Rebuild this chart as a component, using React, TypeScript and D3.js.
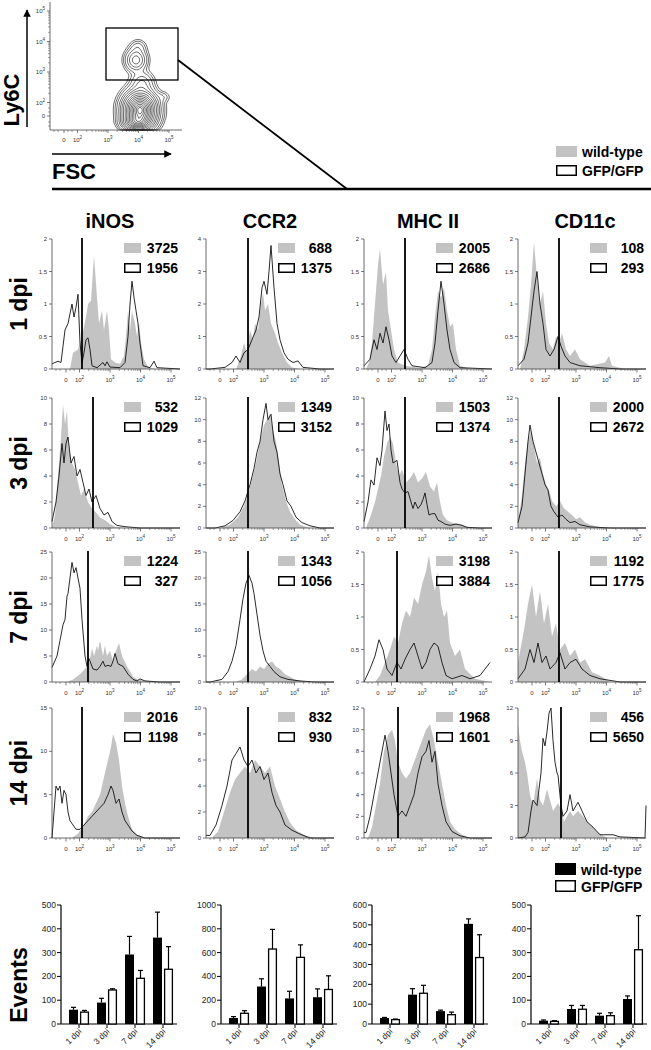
import React from "react";
import * as d3 from "d3";

type Pt = [number, number];

// ---------- Labels ----------
const markers = ["iNOS", "CCR2", "MHC II", "CD11c"];
const days = ["1 dpi", "3 dpi", "7 dpi", "14 dpi"];

// ---------- Histogram axis settings (per row, per marker) ----------
const yMaxes = [
  [2, 4, 2, 2],
  [10, 12, 10, 12],
  [25, 25, 2, 2],
  [15, 10, 12, 12],
];
const yTickSteps = [
  [0.5, 1, 0.5, 0.5],
  [2, 2, 2, 2],
  [5, 5, 0.5, 0.5],
  [5, 2, 2, 3],
];
// gate position, channel units (0-256)
const gates = [
  [60, 84, 82, 82],
  [82, 84, 82, 82],
  [72, 84, 66, 82],
  [60, 84, 68, 86],
];
const mfiWT = [
  [3725, 688, 2005, 108],
  [532, 1349, 1503, 2000],
  [1224, 1343, 3198, 1192],
  [2016, 832, 1968, 456],
];
const mfiKO = [
  [1956, 1375, 2686, 293],
  [1029, 3152, 1374, 2672],
  [327, 1056, 3884, 1775],
  [1198, 930, 1601, 5650],
];
// x axis decade ticks (channel units)
const xTickCh = [28, 55, 116, 177, 238];
const xTickExp = ["", "2", "3", "4", "5"];

// ---------- Histogram data: [channel, count] ----------
const iNOS_d1_wt: Pt[] = [[36,0],[42,0.25],[52,0.3],[60,0.5],[68,0.8],[72,1.0],[78,1.05],[84,1.75],[90,1.1],[94,0.7],[100,0.9],[104,0.6],[110,0.9],[114,0.6],[118,0.15],[126,0.1],[136,0.08],[144,0.2],[148,0.5],[152,0.9],[156,0.6],[160,0.9],[166,0.7],[170,0.5],[174,0.72],[178,0.4],[184,0.15],[192,0.03],[206,0]];
const iNOS_d1_ko: Pt[] = [[0,0.08],[12,0.12],[18,0.1],[22,0.35],[26,0.6],[32,0.7],[36,0.85],[40,1.0],[44,0.8],[48,0.95],[52,1.15],[56,0.4],[60,0.1],[64,0.25],[68,0.45],[72,0.48],[76,0.3],[80,0.05],[90,0.02],[102,0.1],[106,0.05],[110,0.11],[116,0.03],[136,0.02],[146,0.1],[152,0.5],[156,1.0],[160,1.35],[164,1.1],[168,0.9],[172,0.7],[176,0.4],[182,0.05],[196,0.02],[204,0.12],[210,0.02],[256,0]];
const CCR2_d1_wt: Pt[] = [[60,0],[68,0.3],[76,0.8],[82,0.5],[88,1.2],[94,0.9],[98,1.4],[104,1.2],[110,2.0],[114,2.35],[118,1.8],[124,2.0],[130,1.4],[138,1.1],[144,0.8],[152,0.5],[162,0.2],[172,0.05],[188,0]];
const CCR2_d1_ko: Pt[] = [[0,0],[8,0],[38,0.05],[52,0.2],[60,0.4],[68,0.2],[76,0.5],[84,0.6],[92,0.9],[100,1.2],[106,1.6],[112,2.5],[116,2.7],[122,2.3],[126,3.0],[130,3.8],[136,2.5],[142,1.4],[148,0.9],[156,0.5],[164,0.3],[174,0.2],[184,0.25],[194,0.05],[228,0],[256,0]];
const MHC_d1_wt: Pt[] = [[4,0],[10,0.1],[16,0.4],[22,1.0],[28,1.6],[32,1.85],[38,1.3],[44,1.5],[48,0.9],[54,0.6],[60,0.3],[68,0.1],[82,0.05],[112,0.02],[128,0.05],[136,0.3],[142,0.8],[148,1.2],[154,1.1],[160,1.25],[166,0.9],[172,0.65],[178,0.7],[184,0.3],[192,0.05],[212,0]];
const MHC_d1_ko: Pt[] = [[0,0.05],[12,0.15],[20,0.45],[26,0.3],[32,0.55],[38,0.4],[44,0.65],[50,0.45],[56,0.2],[64,0.1],[72,0.2],[80,0.3],[88,0.15],[96,0.05],[122,0.02],[136,0.1],[142,0.4],[148,0.9],[154,1.35],[160,1.0],[166,0.6],[172,0.3],[180,0.1],[192,0.02],[256,0]];
const CD11c_d1_wt: Pt[] = [[4,0],[12,0.3],[20,0.8],[26,1.3],[32,1.95],[38,1.4],[44,1.0],[50,1.2],[56,0.7],[62,0.4],[70,0.3],[76,0.5],[82,0.4],[88,0.55],[96,0.3],[104,0.2],[114,0.3],[124,0.15],[144,0.05],[174,0.1],[182,0.2],[188,0.05],[214,0]];
const CD11c_d1_ko: Pt[] = [[0,0.05],[12,0.15],[20,0.4],[26,0.8],[32,1.2],[38,1.5],[44,1.0],[50,0.7],[56,0.3],[64,0.2],[72,0.3],[80,0.5],[86,0.35],[94,0.2],[104,0.1],[124,0.05],[164,0.02],[204,0],[256,0]];

const iNOS_d3_wt: Pt[] = [[0,0],[6,1],[12,4],[18,7],[22,9.5],[26,8],[30,9],[34,6],[40,5],[46,4.5],[52,3.5],[58,2.5],[64,3],[72,2],[80,1.5],[88,1.2],[96,0.8],[106,0.6],[116,0.3],[126,0.1],[146,0]];
const iNOS_d3_ko: Pt[] = [[0,0.5],[8,2],[14,4],[20,6.5],[24,5],[28,6.5],[32,7],[38,5],[44,5.5],[50,4],[56,4.5],[62,3.5],[68,2.5],[74,3],[80,2],[88,2.5],[96,1.5],[104,1],[112,1.2],[120,0.5],[130,0.2],[146,0.1],[176,0],[256,0]];
const CCR2_d3_wt: Pt[] = [[28,0],[48,0.3],[64,1],[76,2],[84,3],[92,4.5],[100,6],[108,8],[116,9.5],[122,10],[128,10.5],[134,9],[140,8],[146,6],[152,4],[160,2.5],[168,1.5],[178,0.8],[188,0.3],[208,0]];
const CCR2_d3_ko: Pt[] = [[0,0],[18,0],[38,0.2],[54,0.7],[68,1.5],[78,2.5],[88,4],[96,5.5],[102,7],[108,8],[114,10],[120,11.5],[124,10],[130,10.5],[136,8],[142,7],[148,5],[154,4],[162,2.5],[170,2],[180,1],[192,0.5],[208,0.2],[228,0],[256,0]];
const MHC_d3_wt: Pt[] = [[4,0],[8,0.4],[14,1],[22,2],[28,3],[34,4],[40,5.5],[46,6.5],[52,7],[58,6.5],[64,5],[70,4],[76,4.5],[84,3.5],[92,3.8],[100,4.3],[108,3.5],[116,3.8],[124,4.3],[132,3.2],[140,2.8],[146,3.5],[152,2],[158,1],[166,0.6],[176,0.4],[192,0.3],[206,0.1],[222,0]];
const MHC_d3_ko: Pt[] = [[0,0.5],[8,2],[14,3.7],[20,3.3],[26,5.4],[32,4.8],[36,6],[42,9],[46,7.5],[50,8],[54,6],[58,5],[66,5.2],[72,3.5],[76,3],[82,2.7],[88,2.8],[94,2],[98,1.5],[102,2],[108,1.5],[114,1.8],[118,2.2],[122,2.7],[126,1.8],[130,1],[136,1.1],[142,1.1],[148,0.6],[154,0.5],[162,0.3],[172,0.2],[184,0.3],[196,0.2],[206,0.05],[232,0],[256,0]];
const CD11c_d3_wt: Pt[] = [[0,0.5],[8,3],[14,6],[20,8],[26,9],[32,7.5],[38,6],[44,6.5],[50,5],[56,4],[62,3.5],[68,2.5],[76,2],[84,2.5],[92,1.8],[100,1.5],[108,1.2],[116,0.8],[124,1],[134,0.5],[144,0.3],[164,0.1],[194,0]];
const CD11c_d3_ko: Pt[] = [[0,0.5],[8,2],[14,5],[20,8],[24,9.5],[30,8],[36,7],[42,6],[48,5],[54,4],[60,3.5],[66,2],[72,1.5],[80,1],[88,1.2],[96,0.8],[104,0.5],[114,0.6],[124,0.3],[144,0.1],[184,0],[256,0]];

const iNOS_d7_wt: Pt[] = [[30,0],[42,0.5],[56,1.5],[66,2.5],[74,3.5],[80,6.5],[84,5],[90,7],[92,6],[96,8],[102,5],[106,7],[110,5],[116,6],[122,4],[126,5.5],[134,7.5],[140,5],[150,3],[156,2],[162,1],[172,0.5],[182,0.3],[202,0.1],[216,0]];
const iNOS_d7_ko: Pt[] = [[0,2.8],[10,5],[16,8],[22,11],[26,12],[30,16.5],[32,17],[36,20],[40,23],[44,21],[48,22],[52,20],[56,18],[60,12],[66,5],[70,3],[74,4.5],[82,2.5],[90,2.3],[96,3],[102,4],[106,3],[112,3.2],[118,3],[122,4],[126,5.5],[132,3.5],[142,3],[152,1.5],[162,0.5],[170,0.2],[176,0.6],[186,0.2],[216,0],[256,0]];
const CCR2_d7_wt: Pt[] = [[58,0],[72,0.5],[82,1.5],[92,2.5],[100,2],[108,3],[116,2.5],[124,3.5],[132,4],[140,3],[148,2.5],[158,1.5],[168,1],[178,0.5],[192,0.2],[208,0]];
const CCR2_d7_ko: Pt[] = [[0,0],[8,0],[32,0.5],[44,2],[52,4],[60,7],[68,12],[74,16],[80,19],[86,20.5],[92,19],[96,17],[102,13],[108,9],[114,6],[120,4],[128,3],[136,2],[148,1],[164,0.5],[188,0.2],[218,0],[256,0]];
const MHC_d7_wt: Pt[] = [[22,0],[32,0.1],[42,0.3],[52,0.5],[60,0.7],[68,0.6],[76,0.9],[84,1.1],[92,1.0],[100,1.3],[108,1.2],[116,1.5],[124,1.7],[130,1.95],[136,1.6],[142,1.4],[148,1.7],[154,1.2],[160,1.0],[166,1.1],[172,0.6],[182,0.4],[192,0.5],[202,0.2],[222,0.05],[252,0]];
const MHC_d7_ko: Pt[] = [[0,0],[12,0.2],[22,0.4],[30,0.65],[38,0.5],[46,0.2],[56,0.1],[66,0.3],[74,0.2],[82,0.35],[92,0.5],[100,0.6],[108,0.4],[116,0.2],[124,0.3],[132,0.5],[140,0.6],[148,0.55],[156,0.3],[164,0.1],[176,0.05],[196,0.1],[212,0.05],[232,0.1],[252,0.3]];
const CD11c_d7_wt: Pt[] = [[0,0.3],[12,0.8],[20,1.2],[28,1.5],[36,1.0],[44,1.4],[52,0.9],[60,1.2],[68,0.7],[76,0.9],[84,0.5],[94,0.6],[104,0.4],[114,0.5],[124,0.3],[134,0.35],[148,0.15],[164,0.1],[184,0]];
const CD11c_d7_ko: Pt[] = [[0,0.05],[14,0.2],[24,0.5],[32,0.3],[40,0.6],[48,0.3],[56,0.4],[64,0.2],[76,0.3],[84,0.45],[94,0.2],[104,0.3],[116,0.35],[128,0.2],[144,0.1],[164,0.05],[204,0],[256,0]];

const iNOS_d14_wt: Pt[] = [[40,0],[52,0.5],[64,1.5],[72,2.5],[80,3],[88,4],[96,5],[104,7],[112,9],[118,10.5],[122,12],[128,11],[134,9],[140,6],[146,4],[152,2.5],[160,1],[170,0.4],[186,0]];
const iNOS_d14_ko: Pt[] = [[0,0],[4,3],[8,6],[12,5.5],[16,6],[20,4],[24,5.5],[28,5],[32,3],[36,2],[42,1.5],[48,1],[56,1],[64,1.5],[72,2],[80,2.5],[88,3],[96,3.5],[104,4],[112,5],[118,6],[122,5.5],[128,4],[134,4.5],[140,3],[146,2],[152,1.5],[160,0.8],[170,0.3],[186,0],[256,0]];
const CCR2_d14_wt: Pt[] = [[12,0],[24,0.5],[36,2],[48,3.5],[58,4.5],[68,5],[78,5.5],[88,5],[98,6],[108,5.5],[118,5],[128,5.5],[138,4],[148,3],[158,2],[168,1.2],[180,0.6],[198,0.2],[218,0]];
const CCR2_d14_ko: Pt[] = [[0,0.2],[8,0.2],[20,1],[32,2.5],[42,4],[52,6],[60,6.5],[68,7],[76,6],[84,5.5],[92,6],[100,5],[108,5.5],[116,4.5],[124,5],[132,3.5],[140,2.5],[148,2],[158,1],[172,0.6],[188,0.3],[208,0],[256,0]];
const MHC_d14_wt: Pt[] = [[8,0],[16,1],[24,3],[32,5],[40,8],[48,9.5],[56,10],[62,9],[68,7],[76,6],[84,5.5],[92,6],[100,7],[108,8],[116,9],[124,10],[132,10.5],[140,9],[148,7],[156,5],[164,3],[172,1.5],[182,0.8],[196,0.3],[212,0]];
const MHC_d14_ko: Pt[] = [[0,0.5],[4,0.5],[12,2],[20,4],[28,6],[36,8],[42,9.5],[48,8],[54,6],[60,4],[68,2],[76,2.5],[84,2],[92,3],[100,4],[108,6],[116,7.5],[124,8],[130,9],[136,7],[142,8],[148,5],[156,3],[164,1.5],[176,0.6],[192,0.2],[212,0],[256,0]];
const CD11c_d14_wt: Pt[] = [[0,10.5],[4,9],[8,8],[14,7],[18,6],[24,4],[30,3],[38,5.5],[44,3.5],[50,3],[58,4.5],[64,3.5],[70,2.5],[80,3.2],[88,2.5],[92,1.5],[104,2.5],[110,2],[120,2.5],[130,2],[138,1.5],[150,1],[160,0.5],[170,0.2],[178,0]];
const CD11c_d14_ko: Pt[] = [[0,0],[14,0.1],[20,0.5],[26,2.5],[30,3.5],[38,3],[42,4.5],[46,6],[50,9.2],[54,8.5],[58,9.8],[62,11.5],[66,12],[70,9],[74,7],[78,6],[80,5.8],[86,3],[90,2],[98,2.5],[104,4],[110,2.5],[120,3.3],[128,2.5],[138,1.5],[150,1],[164,0.3],[190,0.3],[204,0.1],[254,0],[256,3]];

const histWT: Pt[][][] = [
  [iNOS_d1_wt, CCR2_d1_wt, MHC_d1_wt, CD11c_d1_wt],
  [iNOS_d3_wt, CCR2_d3_wt, MHC_d3_wt, CD11c_d3_wt],
  [iNOS_d7_wt, CCR2_d7_wt, MHC_d7_wt, CD11c_d7_wt],
  [iNOS_d14_wt, CCR2_d14_wt, MHC_d14_wt, CD11c_d14_wt],
];
const histKO: Pt[][][] = [
  [iNOS_d1_ko, CCR2_d1_ko, MHC_d1_ko, CD11c_d1_ko],
  [iNOS_d3_ko, CCR2_d3_ko, MHC_d3_ko, CD11c_d3_ko],
  [iNOS_d7_ko, CCR2_d7_ko, MHC_d7_ko, CD11c_d7_ko],
  [iNOS_d14_ko, CCR2_d14_ko, MHC_d14_ko, CD11c_d14_ko],
];

// ---------- Contour (Ly6C vs FSC) population components: [fscCh, ly6cCh, sdX, sdY, weight] ----------
const populations: [number, number, number, number, number][] = [
  [180, 40, 16, 18, 1.0],
  [174, 16, 14, 8, 0.4],
  [184, 94, 12, 12, 0.05],
  [172, 140, 11, 12, 0.1],
  [176, 166, 9, 8, 0.02],
  [226, 66, 8, 6, 0.012],
];
const contourLevels = [0.004, 0.008, 0.015, 0.03, 0.05, 0.08, 0.12, 0.18, 0.25, 0.33, 0.42, 0.52, 0.62, 0.72, 0.82, 0.9, 0.96];
const gateRect = { x0: 112, x1: 256, y0: 100, y1: 204 };

// ---------- Bar chart data (Events) ----------
const barDays = ["1 dpi", "3 dpi", "7 dpi", "14 dpi"];
const barYMax = [500, 1000, 600, 500];
const barYStep = [100, 200, 100, 100];
const eventsWT = [[60, 90, 292, 363], [50, 315, 215, 225], [30, 148, 65, 505], [14, 63, 35, 105]];
const errWT = [[10, 18, 76, 107], [12, 65, 60, 70], [3, 30, 5, 25], [3, 15, 10, 13]];
const eventsKO = [[50, 143, 192, 230], [90, 630, 560, 290], [22, 155, 47, 335], [11, 62, 35, 312]];
const errKO = [[7, 5, 33, 95], [22, 165, 105, 115], [3, 40, 13, 115], [3, 16, 12, 143]];

const FONT = "'Liberation Sans', Arial, Helvetica, sans-serif";
const GRAY = "#c3c3c3";

const COLS = [52, 206, 364, 518];
const ROW_BASE = [369, 528, 682, 838];
const PW = 128;
const PH = 130;

function Hist({ r, c }: { r: number; c: number }) {
  const x0 = COLS[c];
  const yb = ROW_BASE[r];
  const ymax = yMaxes[r][c];
  const x = d3.scaleLinear().domain([0, 256]).range([x0, x0 + PW]);
  const y = d3.scaleLinear().domain([0, ymax]).range([yb, yb - PH]);
  const cy = (v: number) => y(Math.min(v, ymax));
  const area = d3.area<Pt>().x((d) => x(d[0])).y0(yb).y1((d) => cy(d[1]));
  const line = d3.line<Pt>().x((d) => x(d[0])).y((d) => cy(d[1]));
  const step = yTickSteps[r][c];
  const yticks = d3.range(0, ymax + step / 2, step);
  const minor: number[] = [];
  for (let k = 2; k <= 4; k++) {
    for (let m = 2; m <= 9; m++) minor.push(55 + (k - 2 + Math.log10(m)) * 61);
  }
  [8, 16, 36, 44].forEach((v) => minor.push(v));
  const gx = x(gates[r][c]);
  const lx = x0 + 72;
  const ly = yb - PH + 4;
  return (
    <g>
      <path d={area(histWT[r][c]) || ""} fill={GRAY} />
      <path d={line(histKO[r][c]) || ""} fill="none" stroke="#111" strokeWidth={0.9} />
      <line x1={x0} x2={x0} y1={yb} y2={yb - PH} stroke="#444" strokeWidth={0.8} />
      <line x1={x0} x2={x0 + PW} y1={yb} y2={yb} stroke="#444" strokeWidth={0.8} />
      {yticks.map((t) => (
        <g key={t}>
          <line x1={x0 - 3} x2={x0} y1={y(t)} y2={y(t)} stroke="#444" strokeWidth={0.7} />
          <text x={x0 - 5} y={y(t) + 2} fontSize={6} textAnchor="end" fill="#333" fontFamily={FONT}>
            {String(t)}
          </text>
        </g>
      ))}
      {minor.map((m, i) => (
        <line key={i} x1={x(m)} x2={x(m)} y1={yb} y2={yb + 2} stroke="#444" strokeWidth={0.5} />
      ))}
      {xTickCh.map((t, i) => (
        <g key={i}>
          <line x1={x(t)} x2={x(t)} y1={yb} y2={yb + 3.5} stroke="#444" strokeWidth={0.7} />
          <text x={x(t)} y={yb + 13} fontSize={6} textAnchor="middle" fill="#333" fontFamily={FONT}>
            {xTickExp[i] === "" ? "0" : (
              <>
                10<tspan fontSize={4.5} dy={-3}>{xTickExp[i]}</tspan>
              </>
            )}
          </text>
        </g>
      ))}
      <line x1={gx} x2={gx} y1={yb} y2={yb - PH - 1} stroke="#000" strokeWidth={1.8} />
      <rect x={lx} y={ly} width={17} height={10} fill={GRAY} />
      <text x={x0 + 126} y={ly + 10} fontSize={14} fontWeight="bold" textAnchor="end" fontFamily={FONT}>
        {mfiWT[r][c]}
      </text>
      <rect x={lx + 0.75} y={ly + 20.75} width={15.5} height={8.5} fill="#fff" stroke="#000" strokeWidth={1.5} />
      <text x={x0 + 126} y={ly + 30} fontSize={14} fontWeight="bold" textAnchor="end" fontFamily={FONT}>
        {mfiKO[r][c]}
      </text>
    </g>
  );
}

function ContourPlot() {
  const xs = d3.scaleLinear().domain([0, 264]).range([50, 182]);
  const ys = d3.scaleLinear().domain([0, 256]).range([130, 2]);
  const step = 2;
  const nx = 66;
  const ny = 64;
  const vals: number[] = new Array(nx * ny).fill(0);
  for (let j = 0; j < ny; j++) {
    for (let i = 0; i < nx; i++) {
      const cx = xs.invert(50 + (i + 0.5) * step);
      const cy = ys.invert(2 + (j + 0.5) * step);
      let s = 0;
      for (const [px, py, sx, sy, w] of populations) {
        s += w * Math.exp(-((cx - px) ** 2) / (2 * sx * sx) - ((cy - py) ** 2) / (2 * sy * sy));
      }
      vals[j * nx + i] = s;
    }
  }
  const mx = d3.max(vals) || 1;
  const cs = d3.contours().size([nx, ny]).thresholds(contourLevels.map((l) => l * mx))(vals);
  const path = d3.geoPath(d3.geoIdentity().scale(step).translate([50, 2]) as any);
  const yTicks = [28, 55, 116, 177, 238];
  const minorX: number[] = [];
  for (let k = 2; k <= 4; k++) for (let m = 2; m <= 9; m++) minorX.push(55 + (k - 2 + Math.log10(m)) * 61);
  [8, 16, 36, 44].forEach((v) => minorX.push(v));
  return (
    <g>
      {cs.map((c, i) => (
        <path key={i} d={path(c as any) || ""} fill="none" stroke="#111" strokeWidth={0.6} />
      ))}
      <line x1={50} x2={50} y1={2} y2={130} stroke="#444" strokeWidth={0.8} />
      <line x1={50} x2={182} y1={130} y2={130} stroke="#444" strokeWidth={0.8} />
      {yTicks.map((t, i) => (
        <g key={i}>
          <line x1={47} x2={50} y1={ys(t)} y2={ys(t)} stroke="#444" strokeWidth={0.7} />
          <text x={45} y={ys(t) + 2} fontSize={6} textAnchor="end" fill="#333" fontFamily={FONT}>
            {xTickExp[i] === "" ? "0" : (<>10<tspan fontSize={4.5} dy={-3}>{xTickExp[i]}</tspan></>)}
          </text>
        </g>
      ))}
      {minorX.map((m, i) => (
        <g key={i}>
          <line x1={xs(m)} x2={xs(m)} y1={130} y2={132} stroke="#444" strokeWidth={0.5} />
          <line x1={48} x2={50} y1={ys(m)} y2={ys(m)} stroke="#444" strokeWidth={0.5} />
        </g>
      ))}
      {yTicks.map((t, i) => (
        <g key={"x" + i}>
          <line x1={xs(t)} x2={xs(t)} y1={130} y2={133} stroke="#444" strokeWidth={0.7} />
          <text x={xs(t)} y={142} fontSize={6} textAnchor="middle" fill="#333" fontFamily={FONT}>
            {xTickExp[i] === "" ? "0" : (<>10<tspan fontSize={4.5} dy={-3}>{xTickExp[i]}</tspan></>)}
          </text>
        </g>
      ))}
      <rect
        x={xs(gateRect.x0)}
        y={ys(gateRect.y1)}
        width={xs(gateRect.x1) - xs(gateRect.x0)}
        height={ys(gateRect.y0) - ys(gateRect.y1)}
        fill="none"
        stroke="#000"
        strokeWidth={1.3}
      />
      <line x1={xs(gateRect.x1)} y1={ys(140)} x2={347} y2={189} stroke="#000" strokeWidth={1.8} />
    </g>
  );
}

function BarChart({ c }: { c: number }) {
  const AX = [61, 221, 372, 531][c];
  const y0 = 1024;
  const y = d3.scaleLinear().domain([0, barYMax[c]]).range([y0, y0 - 119]);
  const xb = d3.scaleBand().domain(barDays).range([AX + 4, AX + 116]);
  const ticks = d3.range(0, barYMax[c] + 1, barYStep[c]);
  return (
    <g fontFamily={FONT}>
      <line x1={AX} x2={AX} y1={y0} y2={y(barYMax[c])} stroke="#000" strokeWidth={1.2} />
      <line x1={AX} x2={AX + 116} y1={y0} y2={y0} stroke="#000" strokeWidth={1.2} />
      {ticks.map((t) => (
        <g key={t}>
          <line x1={AX - 4} x2={AX} y1={y(t)} y2={y(t)} stroke="#000" strokeWidth={1} />
          <text x={AX - 5} y={y(t) + 3} fontSize={8.5} textAnchor="end" fill="#222">
            {t}
          </text>
        </g>
      ))}
      {barDays.map((d, i) => {
        const cx = (xb(d) || 0) + xb.bandwidth() / 2;
        const wt = eventsWT[c][i];
        const ko = eventsKO[c][i];
        const ewt = wt + errWT[c][i];
        const eko = ko + errKO[c][i];
        return (
          <g key={d}>
            <line x1={cx - 5.5} x2={cx - 5.5} y1={y(wt)} y2={y(ewt)} stroke="#000" strokeWidth={1.2} />
            <line x1={cx - 8} x2={cx - 3} y1={y(ewt)} y2={y(ewt)} stroke="#000" strokeWidth={1.2} />
            <rect x={cx - 10} y={y(wt)} width={9} height={y0 - y(wt)} fill="#000" />
            <line x1={cx + 5.5} x2={cx + 5.5} y1={y(ko)} y2={y(eko)} stroke="#000" strokeWidth={1.2} />
            <line x1={cx + 3} x2={cx + 8} y1={y(eko)} y2={y(eko)} stroke="#000" strokeWidth={1.2} />
            <rect x={cx + 1.6} y={y(ko)} width={7.8} height={y0 - y(ko)} fill="#fff" stroke="#000" strokeWidth={1.3} />
            <line x1={cx} x2={cx} y1={y0} y2={y0 + 4} stroke="#000" strokeWidth={1} />
            <text
              transform={`translate(${cx + 3},${y0 + 8}) rotate(-45)`}
              fontSize={8.5}
              textAnchor="end"
              fill="#222"
            >
              {d}
            </text>
          </g>
        );
      })}
    </g>
  );
}

export default function App() {
  const headerX = [110, 270, 428, 585];
  return (
    <div style={{ position: "absolute", left: 0, top: 0 }}>
      <svg width={651} height={1050} viewBox="0 0 651 1050" style={{ display: "block", background: "#fff" }}>
        <rect width={651} height={1050} fill="#fff" />
        <ContourPlot />
        <defs>
          <marker id="arr" viewBox="0 0 10 10" refX={9} refY={5} markerWidth={5} markerHeight={5} orient="auto">
            <path d="M0,0 L10,5 L0,10 z" fill="#000" />
          </marker>
        </defs>
        <line x1={27} y1={127} x2={27} y2={10} stroke="#000" strokeWidth={1.5} markerEnd="url(#arr)" />
        <line x1={52} y1={154} x2={171} y2={154} stroke="#000" strokeWidth={1.5} markerEnd="url(#arr)" />
        <text transform="translate(19,100) rotate(-90)" fontSize={22} fontWeight="bold" textAnchor="middle" fontFamily={FONT}>
          Ly6C
        </text>
        <text x={52} y={179} fontSize={22} fontWeight="bold" fontFamily={FONT}>
          FSC
        </text>
        <line x1={52} x2={651} y1={189} y2={189} stroke="#000" strokeWidth={2.5} />
        <rect x={556} y={146} width={21} height={11} fill={GRAY} />
        <text x={582} y={157} fontSize={14} fontWeight="bold" fontFamily={FONT}>
          wild-type
        </text>
        <rect x={556.75} y={165.75} width={19.5} height={9.5} fill="#fff" stroke="#000" strokeWidth={1.5} />
        <text x={582} y={176} fontSize={14} fontWeight="bold" fontFamily={FONT}>
          GFP/GFP
        </text>

        {markers.map((m, i) => (
          <text key={m} x={headerX[i]} y={228} fontSize={20} fontWeight="bold" textAnchor="middle" fontFamily={FONT}>
            {m}
          </text>
        ))}
        {days.map((d, r) => (
          <text
            key={d}
            transform={`translate(27,${ROW_BASE[r] - PH / 2}) rotate(-90)`}
            fontSize={23}
            fontWeight="bold"
            textAnchor="middle"
            fontFamily={FONT}
          >
            {d}
          </text>
        ))}
        {days.map((_, r) => markers.map((_, c) => <Hist key={r + "-" + c} r={r} c={c} />))}

        <text transform="translate(27,985) rotate(-90)" fontSize={23} fontWeight="bold" textAnchor="middle" fontFamily={FONT}>
          Events
        </text>
        {[0, 1, 2, 3].map((c) => (
          <BarChart key={c} c={c} />
        ))}
        <rect x={555} y={863} width={21} height={12} fill="#000" />
        <text x={581} y={875} fontSize={14} fontWeight="bold" fontFamily={FONT}>
          wild-type
        </text>
        <rect x={555.75} y={880.75} width={19.5} height={10.5} fill="#fff" stroke="#000" strokeWidth={1.5} />
        <text x={581} y={892} fontSize={14} fontWeight="bold" fontFamily={FONT}>
          GFP/GFP
        </text>
      </svg>
    </div>
  );
}
